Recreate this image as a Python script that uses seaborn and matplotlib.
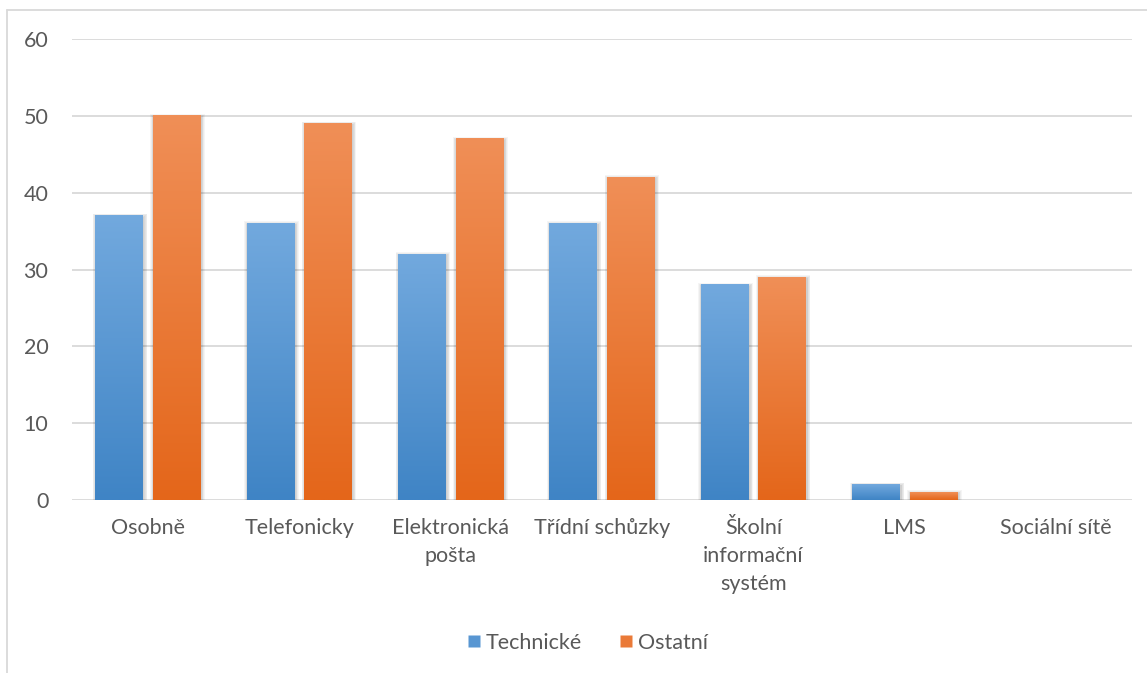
import numpy as np
import pandas as pd
import matplotlib
matplotlib.use("Agg")
import matplotlib.pyplot as plt
from matplotlib.patches import Rectangle
from matplotlib.lines import Line2D
import matplotlib.colors as mcolors
import seaborn as sns

# Data
categories = ["Osobně", "Telefonicky", "Elektronická\npošta", "Třídní schůzky",
              "Školní\ninformační\nsystém", "LMS", "Sociální sítě"]
technicke = [37, 36, 32, 36, 28, 2, 0]
ostatni = [50, 49, 47, 42, 29, 1, 0]
series_names = ["Technické", "Ostatní"]
y_ticks = [0, 10, 20, 30, 40, 50, 60]

df = pd.DataFrame({
    "kategorie": categories * 2,
    "pocet": technicke + ostatni,
    "skupina": [series_names[0]] * len(categories) + [series_names[1]] * len(categories),
})

# Gradient colours (top, bottom) per series
grad = {
    series_names[0]: ("#72a9de", "#3f84c5"),
    series_names[1]: ("#f08f57", "#e4661a"),
}
mid = {k: mcolors.to_hex((np.array(mcolors.to_rgb(a)) + np.array(mcolors.to_rgb(b))) / 2)
       for k, (a, b) in grad.items()}

sns.set_theme(style="white")
plt.rcParams["font.family"] = ["Lato", "DejaVu Sans"]
text_color = "#595959"
grid_color = "#d9d9d9"
fs = 15.5

W, H = 1147, 673
fig = plt.figure(figsize=(W / 100, H / 100), dpi=100)
ax_left, ax_right, ax_top, ax_bottom = 72, 1132, 39, 500
ax = fig.add_axes([ax_left / W, 1 - ax_bottom / H, (ax_right - ax_left) / W, (ax_bottom - ax_top) / H])

sns.barplot(data=df, x="kategorie", y="pocet", hue="skupina", order=categories,
            hue_order=series_names, palette=mid, width=0.76, gap=0.174,
            legend=False, ax=ax, zorder=3)

# pixel -> data conversions
px_x = 7.0 / (ax_right - ax_left)
px_y = 60.0 / (ax_bottom - ax_top)

bars = list(ax.patches)
n = len(categories)
for i, p in enumerate(bars):
    name = series_names[i // n]
    x0, w = p.get_x(), p.get_width()
    h = p.get_height()
    if h <= 0:
        p.set_visible(False)
        continue
    # soft shadow
    for k in range(1, 6):
        ax.add_patch(Rectangle((x0 - k * px_x * 0.7 + 1.0 * px_x, -k * px_y * 0.7 - 1.0 * px_y),
                               w + 2 * k * px_x * 0.7, h + 2 * k * px_y * 0.7 - 0.5 * px_y,
                               facecolor="black", edgecolor="none", alpha=0.04, zorder=2))
    top, bottom = grad[name]
    c = np.linspace(np.array(mcolors.to_rgb(top)), np.array(mcolors.to_rgb(bottom)), 200)[:, None, :]
    ax.imshow(c, extent=(x0, x0 + w, 0, h), origin="upper", aspect="auto",
              interpolation="bilinear", zorder=3)
    p.set_visible(False)

ax.set_xlim(-0.5, n - 0.5)
ax.set_ylim(0, 60)
ax.set_yticks(y_ticks)
ax.yaxis.grid(True, color=grid_color, linewidth=1.3, zorder=0)
ax.set_axisbelow(True)
for s in ax.spines.values():
    s.set_visible(False)
ax.set_xlabel("")
ax.set_ylabel("")
ax.tick_params(axis="y", length=0, pad=17, labelsize=fs, labelcolor=text_color)
ax.tick_params(axis="x", length=0, pad=13, labelsize=fs, labelcolor=text_color)
for lab in ax.get_xticklabels():
    lab.set_linespacing(1.5)
    lab.set_verticalalignment("top")

# Legend
handles = [Line2D([], [], marker="s", linestyle="none", markersize=8,
                  markerfacecolor=mid[s], markeredgecolor="none") for s in series_names]
fig.legend(handles, series_names, loc="center", bbox_to_anchor=(586 / W, 1 - 643 / H),
           ncol=2, frameon=False, fontsize=fs, labelcolor=text_color,
           handletextpad=0.1, columnspacing=1.6, handlelength=0.9)

# Chart area border (left and top edges)
fig.add_artist(Line2D([7.5 / W, 7.5 / W], [0, 1 - 10 / H], transform=fig.transFigure,
                      color=grid_color, linewidth=1.3))
fig.add_artist(Line2D([7.5 / W, 1], [1 - 10 / H, 1 - 10 / H], transform=fig.transFigure,
                      color=grid_color, linewidth=1.3))

fig.savefig("out.png", dpi=100, facecolor="white")
